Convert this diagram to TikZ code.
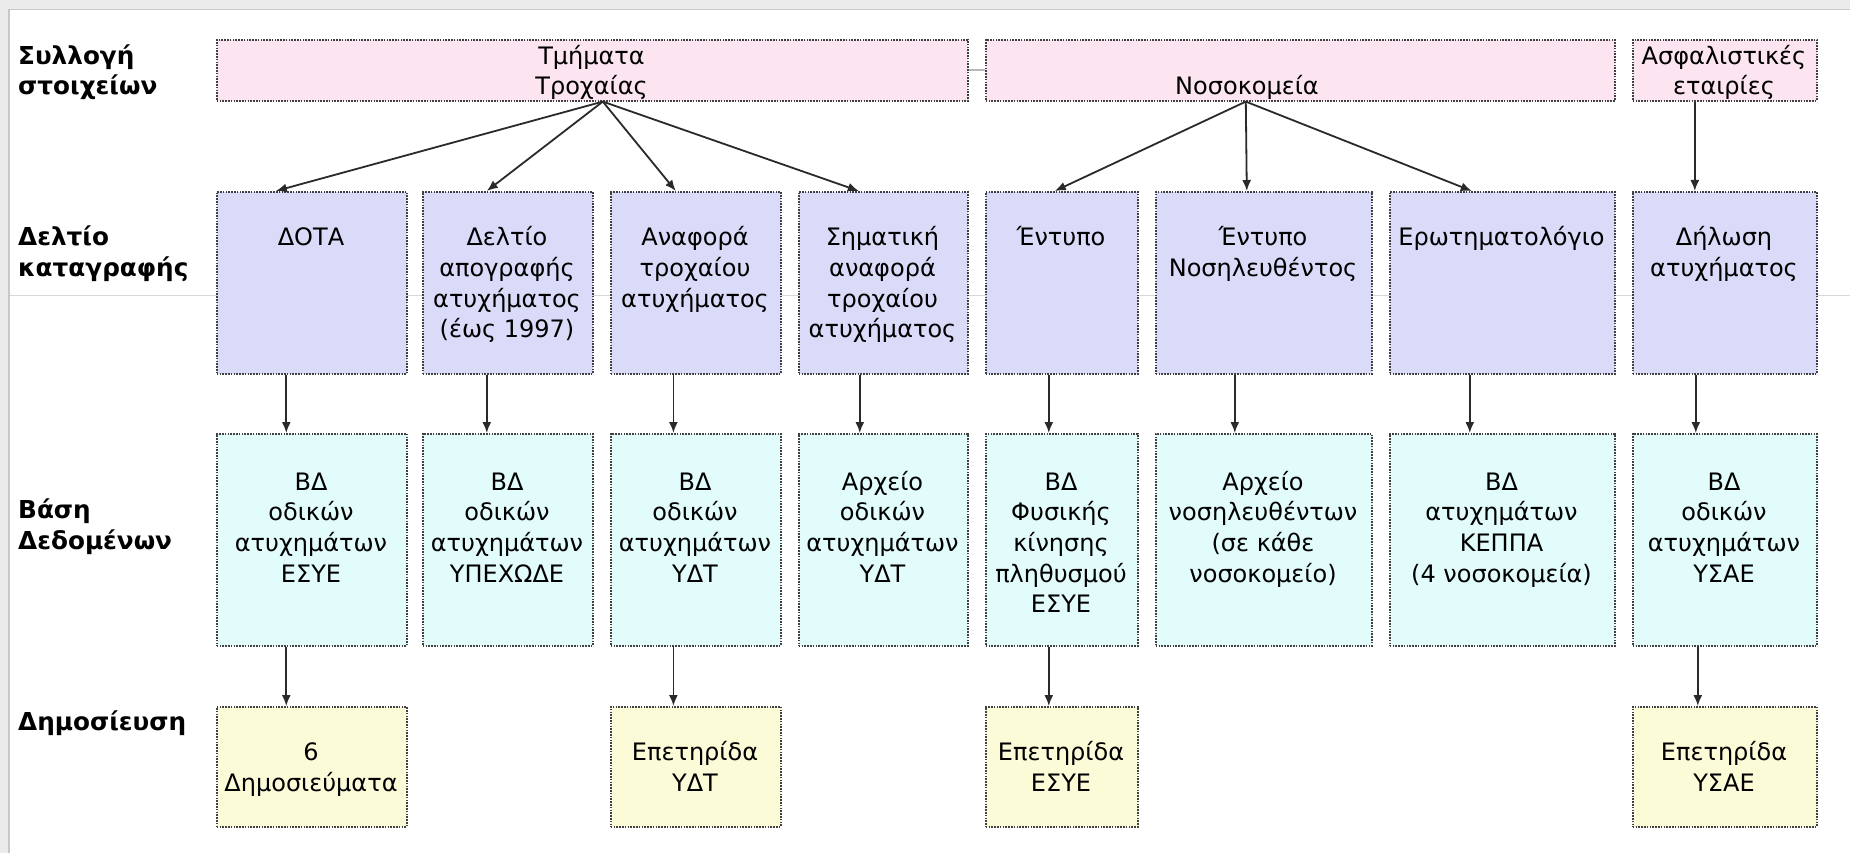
\documentclass[tikz,border=0pt]{standalone}
\usepackage{fontspec}
\usetikzlibrary{arrows.meta}
\newfontfamily\dvs{DejaVu Sans}
\newcommand\boxfont{\dvs\fontsize{24}{30.7}\selectfont}
\newcommand\lblfont{\dvs\bfseries\fontsize{24.7}{30.7}\selectfont}
\definecolor{pinkc}{HTML}{FCE4F0}
\definecolor{lavc}{HTML}{DADAF9}
\definecolor{cyanc}{HTML}{E2FBFB}
\definecolor{yelc}{HTML}{FBFBD8}
\definecolor{bordc}{HTML}{404040}
\definecolor{arrc}{HTML}{2A2A2A}
\definecolor{framec}{HTML}{EBEBEB}
\definecolor{framel}{HTML}{C8C8C8}
\tikzset{
  bx/.style={draw=bordc, line width=1.6pt, dash pattern=on 1.6pt off 1.2pt, inner sep=0pt, anchor=north west, rectangle},
  src/.style={bx, fill=pinkc},
  frm/.style={bx, fill=lavc},
  db/.style={bx, fill=cyanc},
  pub/.style={bx, fill=yelc},
  txt/.style={font=\boxfont, align=center, anchor=north, inner sep=0pt},
  lbl/.style={font=\lblfont, align=left, anchor=north west, inner sep=0pt},
  arr/.style={draw=arrc, line width=1.8pt, -{Latex[length=11pt,width=9pt]}},
}
\begin{document}
\begin{tikzpicture}[x=1pt,y=-1pt]
\useasboundingbox (0,0) rectangle (1850,853);
% window frame
\fill[white] (0,0) rectangle (1850,853);
\fill[framec] (0,0) rectangle (1850,9);
\fill[framec] (0,0) rectangle (9,853);
\draw[framel, line width=1.5pt] (9,853) -- (9,9.5) -- (1850,9.5);
\draw[framel!70, line width=1pt] (10,295) -- (1850,295);

% row labels
\node[lbl] (l1) at (18,42.5) {\strut Συλλογή\\στοιχείων};
\node[lbl] (l2) at (18,224) {\strut Δελτίο\\καταγραφής};
\node[lbl] (l3) at (18,497) {\strut Βάση\\Δεδομένων};
\node[lbl] (l4) at (18,709) {\strut Δημοσίευση};

% row 1: sources
\node[src, minimum width=751pt, minimum height=61pt] (tm) at (216,39) {};
\node[src, minimum width=629pt, minimum height=61pt] (nos) at (985,39) {};
\node[src, minimum width=184pt, minimum height=61pt] (asf) at (1632,39) {};
\draw[framel!80!gray, line width=2pt] (tm.east) -- (nos.west);
\node[txt] (ttm) at (591.5,42.5) {\strut Τμήματα\\Τροχαίας};
\node[txt] (tnos) at (1247,73.2) {\strut Νοσοκομεία};
\node[txt] (tasf) at (1724,42.5) {\strut Ασφαλιστικές\\εταιρίες};

% row 2: forms
\node[frm, minimum width=190pt, minimum height=182pt] (dota) at (216,191) {};
\node[frm, minimum width=170pt, minimum height=182pt] (dap) at (422,191) {};
\node[frm, minimum width=170pt, minimum height=182pt] (anaf) at (610,191) {};
\node[frm, minimum width=169pt, minimum height=182pt] (simat) at (798,191) {};
\node[frm, minimum width=152pt, minimum height=182pt] (ent) at (985,191) {};
\node[frm, minimum width=216pt, minimum height=182pt] (entn) at (1155,191) {};
\node[frm, minimum width=225pt, minimum height=182pt] (erot) at (1389,191) {};
\node[frm, minimum width=184pt, minimum height=182pt] (dil) at (1632,191) {};
\node[txt] (tdota) at (311,224) {\strut ΔΟΤΑ};
\node[txt] (tdap) at (507,224) {\strut Δελτίο\\απογραφής\\ατυχήματος\\(έως 1997)};
\node[txt] (tanaf) at (695,224) {\strut Αναφορά\\τροχαίου\\ατυχήματος};
\node[txt] (tsimat) at (882.5,224) {\strut Σηματική\\αναφορά\\τροχαίου\\ατυχήματος};
\node[txt] (tent) at (1061,224) {\strut Έντυπο};
\node[txt] (tentn) at (1263,224) {\strut Έντυπο\\Νοσηλευθέντος};
\node[txt] (terot) at (1501.5,224) {\strut Ερωτηματολόγιο};
\node[txt] (tdil) at (1724,224) {\strut Δήλωση\\ατυχήματος};

% row 3: databases
\node[db, minimum width=190pt, minimum height=212pt] (db1) at (216,433) {};
\node[db, minimum width=170pt, minimum height=212pt] (db2) at (422,433) {};
\node[db, minimum width=170pt, minimum height=212pt] (db3) at (610,433) {};
\node[db, minimum width=169pt, minimum height=212pt] (db4) at (798,433) {};
\node[db, minimum width=152pt, minimum height=212pt] (db5) at (985,433) {};
\node[db, minimum width=216pt, minimum height=212pt] (db6) at (1155,433) {};
\node[db, minimum width=225pt, minimum height=212pt] (db7) at (1389,433) {};
\node[db, minimum width=184pt, minimum height=212pt] (db8) at (1632,433) {};
\node[txt] (tdb1) at (311,468.5) {\strut ΒΔ\\οδικών\\ατυχημάτων\\ΕΣΥΕ};
\node[txt] (tdb2) at (507,468.5) {\strut ΒΔ\\οδικών\\ατυχημάτων\\ΥΠΕΧΩΔΕ};
\node[txt] (tdb3) at (695,468.5) {\strut ΒΔ\\οδικών\\ατυχημάτων\\ΥΔΤ};
\node[txt] (tdb4) at (882.5,468.5) {\strut Αρχείο\\οδικών\\ατυχημάτων\\ΥΔΤ};
\node[txt] (tdb5) at (1061,468.5) {\strut ΒΔ\\Φυσικής\\κίνησης\\πληθυσμού\\ΕΣΥΕ};
\node[txt] (tdb6) at (1263,468.5) {\strut Αρχείο\\νοσηλευθέντων\\(σε κάθε\\νοσοκομείο)};
\node[txt] (tdb7) at (1501.5,468.5) {\strut ΒΔ\\ατυχημάτων\\ΚΕΠΠΑ\\(4 νοσοκομεία)};
\node[txt] (tdb8) at (1724,468.5) {\strut ΒΔ\\οδικών\\ατυχημάτων\\ΥΣΑΕ};

% row 4: publications
\node[pub, minimum width=190pt, minimum height=120pt] (p1) at (216,706) {};
\node[pub, minimum width=170pt, minimum height=120pt] (p3) at (610,706) {};
\node[pub, minimum width=152pt, minimum height=120pt] (p5) at (985,706) {};
\node[pub, minimum width=184pt, minimum height=120pt] (p8) at (1632,706) {};
\node[txt] (tp1) at (311,739) {\strut 6\\Δημοσιεύματα};
\node[txt] (tp3) at (695,739) {\strut Επετηρίδα\\ΥΔΤ};
\node[txt] (tp5) at (1061,739) {\strut Επετηρίδα\\ΕΣΥΕ};
\node[txt] (tp8) at (1724,739) {\strut Επετηρίδα\\ΥΣΑΕ};

% arrows row 1 -> row 2
\draw[arr] ([xshift=10.5pt]tm.south) -- ([xshift=-36pt]dota.north);
\draw[arr] ([xshift=10.5pt]tm.south) -- ([xshift=-21pt]dap.north);
\draw[arr] ([xshift=10.5pt]tm.south) -- ([xshift=-20pt]anaf.north);
\draw[arr] ([xshift=10.5pt]tm.south) -- ([xshift=-24.5pt]simat.north);
\draw[arr] ([xshift=-54.5pt]nos.south) -- ([xshift=-7pt]ent.north);
\draw[arr] ([xshift=-54.5pt]nos.south) -- ([xshift=-17pt]entn.north);
\draw[arr] ([xshift=-54.5pt]nos.south) -- ([xshift=-30.5pt]erot.north);
\draw[arr] ([xshift=-30pt]asf.south) -- ([xshift=-30pt]dil.north);

% arrows row 2 -> row 3
\draw[arr] ([xshift=-25.5pt]dota.south) -- ([xshift=-25.5pt]db1.north);
\draw[arr] ([xshift=-21pt]dap.south) -- ([xshift=-21pt]db2.north);
\draw[arr] ([xshift=-22.4pt]anaf.south) -- ([xshift=-22.4pt]db3.north);
\draw[arr] ([xshift=-23.5pt]simat.south) -- ([xshift=-23.5pt]db4.north);
\draw[arr] ([xshift=-13pt]ent.south) -- ([xshift=-13pt]db5.north);
\draw[arr] ([xshift=-29pt]entn.south) -- ([xshift=-29pt]db6.north);
\draw[arr] ([xshift=-32.5pt]erot.south) -- ([xshift=-32.5pt]db7.north);
\draw[arr] ([xshift=-29pt]dil.south) -- ([xshift=-29pt]db8.north);

% arrows row 3 -> row 4
\draw[arr] ([xshift=-25.5pt]db1.south) -- ([xshift=-25.5pt]p1.north);
\draw[arr] ([xshift=-22.4pt]db3.south) -- ([xshift=-22.4pt]p3.north);
\draw[arr] ([xshift=-13pt]db5.south) -- ([xshift=-13pt]p5.north);
\draw[arr] ([xshift=-27pt]db8.south) -- ([xshift=-27pt]p8.north);
\end{tikzpicture}
\end{document}
